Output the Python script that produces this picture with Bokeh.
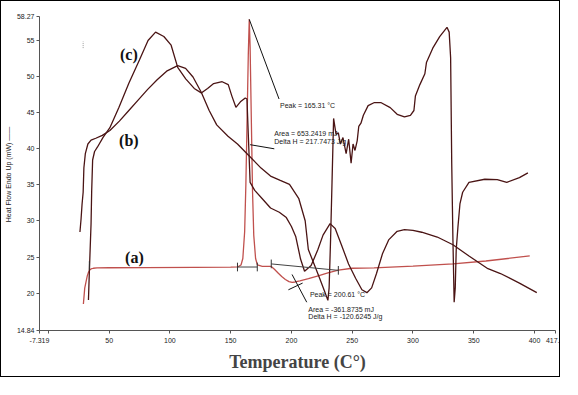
import math
from bokeh.plotting import figure
from bokeh.models import Label, FixedTicker, Range1d
from bokeh.embed import file_html
from bokeh.resources import INLINE

# ---- data (temperature in degC, heat flow in mW) ----
a_T = [28.8, 29.9, 31.0, 32.0, 33.0, 34.0, 35.1, 37, 40, 50, 80, 120, 150, 156, 158.5, 160, 161.5, 162.5, 163.5, 164.5, 165.3,
       166.0, 167.0, 168.0, 169.0, 170.5, 172, 176, 183.4, 186, 189, 192, 195, 198, 200.6, 203, 207, 214, 222, 230, 238.6,
       250, 268, 300, 333, 360, 396.1]
a_Q = [18.5, 20.7, 21.6, 22.4, 22.9, 23.2, 23.35, 23.45, 23.5, 23.52, 23.55, 23.58, 23.6, 23.65, 23.9, 24.8, 28.5, 35, 44, 53, 57.9,
       54, 44, 34, 28, 24.8, 23.9, 23.72, 23.7, 23.3, 22.8, 22.3, 21.9, 21.6, 21.5, 21.55, 21.7, 22.0, 22.4, 22.8, 23.2,
       23.45, 23.5, 23.75, 24.05, 24.45, 25.15]

b_T = [25.96, 26.9, 27.7, 28.6, 29.2, 30.4, 32.5, 35.1, 39, 44.4, 50.6, 58.4, 66.2, 74, 81.7, 89.5, 97.3, 106.4, 112.9, 119,
       125.8, 132.3, 138.5, 147.8, 155.6, 165.7, 175, 182.8, 190.8, 198.4, 206.1, 211.3, 213.9, 219.1, 223.2, 227.1, 230,
       231, 232.2, 233.4, 234.7, 236.7, 238.6, 240.3, 242.4, 245, 247.1, 249.1, 250.7, 252.3, 254.1, 255.4, 257.2, 259.2,
       263.1, 268.3, 273.5, 281.3, 287, 293, 297.9, 300.8, 302, 305.7, 309.8, 311.1, 316.3, 322, 328, 329.8, 331, 331.9,
       332.9, 333.9, 334.8, 335.6, 337, 338.7, 340.9, 346.1, 359.1, 369.4, 377.2, 387.6, 394.6]
b_Q = [28.47, 30.3, 32.3, 33.96, 37.32, 39.3, 40.63, 41.16, 41.43, 41.83, 42.5, 43.8, 45.27, 46.73, 48.19, 49.52, 50.71, 51.47, 51.1, 49.9,
       47.8, 45.27, 43.28, 41.7, 40.63, 38.9, 37.3, 36.2, 35.6, 35.06, 33.07, 30.02, 26.04, 23.83, 22.06, 20.34, 19.01,
       20.7, 27.36, 35.33, 44.17, 41.96, 42.18, 40.63, 41.52, 39.3, 41.3, 37.98, 40.63, 39.74, 41.07, 43.06, 43.51, 44.61,
       45.94, 46.37, 46.37, 45.67, 44.74, 44.38, 44.61, 45.27, 47.26, 48.85, 50.35, 51.9, 53.89, 55.48, 56.77, 56.11, 52.57, 37.98,
       27.37, 18.75, 20.74, 26.04, 29.13, 32.4, 33.96, 35.33, 35.76, 35.72, 35.33, 35.99, 36.65]

c_T = [32.96, 33.7, 35.1, 35.6, 36.4, 38, 40.3, 45, 50.6, 58, 66.2, 75, 82, 88.2, 95, 101, 106.4, 113, 120, 125.8, 131, 136,
       143, 148, 151, 154.3, 158, 162, 163.4, 164.5, 166, 169.8, 176, 182.8, 190, 195.8, 200, 203.6, 207.5, 210.8, 216.2,
       221.7, 226, 231.8, 236, 241.1, 247, 252.8, 258, 262.1, 266, 270, 275, 280, 287, 293, 300, 307.2, 320, 332.9, 346.1,
       361.7, 372, 387.6, 401.9]
c_Q = [19.05, 22.95, 29.58, 33.96, 38.42, 39.6, 40.19, 41.56, 42.89, 45.67, 49.03, 52.3, 54.95, 56.11, 55.5, 54.3, 51.24, 49.65,
       48.32, 47.7, 48.32, 48.99, 49.25, 48.85, 47.26, 45.71, 46.47, 47.0, 46.86, 41.96, 35.33, 34.22, 33.07, 31.78, 31.2,
       30.46, 29.23, 27.8, 24.72, 23.03, 23.83, 26.0, 28.03, 29.62, 28.96, 26.7, 24.05, 22.06, 20.47, 20.07, 20.74, 22.72,
       25.5, 27.37, 28.56, 28.79, 28.69, 28.43, 27.77, 26.7, 25.15, 23.39, 22.72, 21.4, 20.07]

x_ticks = [-7.319, 0, 50, 100, 150, 200, 250, 300, 350, 400, 417.3]
y_ticks = [14.84, 20, 25, 30, 35, 40, 45, 50, 55, 58.27]

# integration baselines (T1, Q1, T2, Q2)
base_T0 = [155.6, 183.4]
base_Q0 = [23.62, 24.05]
base_T1 = [171.9, 238.6]
base_Q1 = [23.62, 23.16]
tick_T = [33.7, 155.6, 171.9, 183.4, 238.6]
tick_Q = [23.83, 23.62, 23.62, 24.05, 23.16]

FONT = "Liberation Sans"
DARK = "#4a1414"
RED = "#c0504d"

p = figure(width=560, height=377, x_range=Range1d(-7.319, 417.3), y_range=Range1d(14.84, 58.27),
           output_backend="svg", toolbar_location=None,
           min_border_left=24, min_border_right=6, min_border_top=15, min_border_bottom=48)
p.styles = {"border": "1px solid black"}
p.outline_line_color = None
p.grid.visible = False
p.background_fill_color = "white"
p.border_fill_color = "white"

for ax in (p.xaxis[0], p.yaxis[0]):
    ax.axis_line_color = "#555555"
    ax.major_tick_line_color = "#555555"
    ax.major_tick_out = 3
    ax.major_tick_in = 0
    ax.minor_tick_line_color = None
    ax.major_label_text_font = FONT
    ax.major_label_text_font_size = "7px"
    ax.major_label_text_color = "#222222"
    ax.major_label_standoff = 2

p.xaxis.ticker = FixedTicker(ticks=x_ticks)
p.xaxis.major_label_overrides = {-7.319: "-7.319", 0: "", 417.3: "417."}
p.xaxis.major_label_standoff = 4
p.yaxis.ticker = FixedTicker(ticks=y_ticks)
p.yaxis.major_label_overrides = {14.84: "14.84", 58.27: "58.27"}

p.xaxis.axis_label = "Temperature (C°)"
p.xaxis.axis_label_text_font = "Liberation Serif"
p.xaxis.axis_label_text_font_style = "bold"
p.xaxis.axis_label_text_font_size = "18px"
p.xaxis.axis_label_standoff = 6

p.yaxis.axis_label = "Heat Flow Endo Up (mW)  ——"
p.yaxis.axis_label_text_font = FONT
p.yaxis.axis_label_text_font_style = "normal"
p.yaxis.axis_label_text_font_size = "7px"
p.yaxis.axis_label_text_color = "#222222"
p.yaxis.axis_label_standoff = 2

# curves
p.line(a_T, a_Q, line_color=RED, line_width=1.3)
p.line(b_T, b_Q, line_color=DARK, line_width=1.3)
p.line(c_T, c_Q, line_color=DARK, line_width=1.3)

# baselines and limit ticks
p.segment(base_T0, base_Q0, base_T1, base_Q1, line_color="#444444", line_width=1)
p.segment(tick_T, [q - 0.6 for q in tick_Q], tick_T, [q + 0.6 for q in tick_Q], line_color="#333333", line_width=1)

# leader lines
p.segment([165.3, 166.0, 200.5, 197.5], [57.87, 40.54, 22.59, 20.47],
          [189.8, 185.9, 212.6, 209.2], [46.86, 39.97, 18.75, 21.4], line_color="#111111", line_width=1)
p.segment([28.6], [53.9], [28.6], [54.8], line_color="#999999", line_width=1, line_dash="1 1")

def txt(x, y, s, size="7px", align="left", font=FONT, style="normal", angle=0.0, color="#222222"):
    p.add_layout(Label(x=x, y=y, text=s, text_font=font, text_font_size=size, text_align=align,
                       text_baseline="middle", text_font_style=style, angle=angle, text_color=color))

txt(176.6, 59.46, "Perkin Elmer DSC 4000", align="center")
txt(190.6, 45.94, "Peak = 165.31 °C")
txt(185.9, 42.09, "Area = 653.2419 mJ")
txt(185.9, 41.03, "Delta H = 217.7473 J/g")
txt(215.2, 19.77, "Peak = 200.61 °C")
txt(213.9, 17.78, "Area = -361.8735 mJ")
txt(213.9, 16.76, "Delta H = -120.6245 J/g")

txt(66.2, 52.97, "(c)", size="16px", align="center", font="Liberation Serif", style="bold", color="#111111")
txt(66.2, 41.16, "(b)", size="16px", align="center", font="Liberation Serif", style="bold", color="#111111")
txt(70.8, 24.98, "(a)", size="16px", align="center", font="Liberation Serif", style="bold", color="#111111")

# red legend mark next to the axis label (screen units, left of the frame)
p.add_layout(Label(x=-26, y=210, x_units="screen", y_units="screen", text="|", text_color=RED,
                   text_font=FONT, text_font_size="14px", text_align="center", text_baseline="middle"))

open("out.html", "w").write(file_html(p, INLINE))
